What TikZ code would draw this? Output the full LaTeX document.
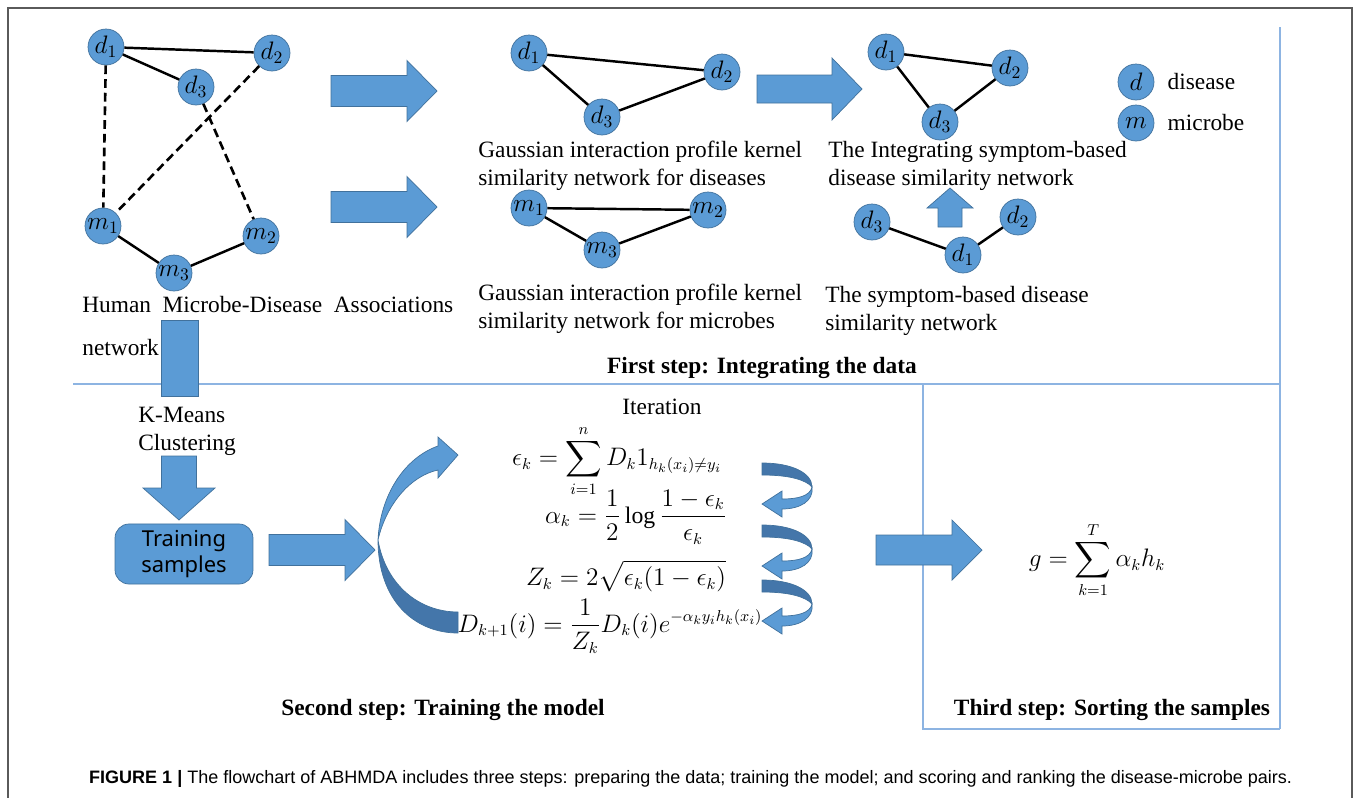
\documentclass[tikz,border=0pt]{standalone}
\usepackage{amsmath}
\usepackage{fontspec}
\setmainfont{Liberation Serif}
\newfontfamily\samplefont{Noto Sans}
\newfontfamily\capfont{Liberation Sans}
\usepackage{xcolor}
\usepackage{tikz}
\usetikzlibrary{positioning}
\definecolor{nodeblue}{RGB}{91,155,213}
\definecolor{nodeedge}{RGB}{65,113,156}
\definecolor{backblue}{RGB}{68,118,170}
\definecolor{panelblue}{RGB}{141,180,226}
\definecolor{framegray}{RGB}{90,90,90}

% tail point, angle, length, shaft width, head width, head length
\newcommand{\fatarrow}[6]{%
  \filldraw[fill=nodeblue, draw=nodeedge, line width=0.4pt, shift={#1}, rotate=#2]
    (0,-#4/2) -- (#3-#6,-#4/2) -- (#3-#6,-#5/2) -- (#3,0) -- (#3-#6,#5/2) -- (#3-#6,#4/2) -- (0,#4/2) -- cycle;}

\begin{document}
\begin{tikzpicture}[x=0.02cm, y=-0.02cm,
    every node/.style={font=\fontsize{13.3}{16}\selectfont},
    vert/.style={circle, draw=nodeedge, fill=nodeblue, minimum size=0.72cm, inner sep=0pt,
      font=\fontsize{14.4}{16}\selectfont},
    link/.style={line width=1.4pt},
    dlink/.style={line width=1.5pt, dash pattern=on 5pt off 2.8pt},
    panel/.style={draw=panelblue, line width=1.1pt},
    annot/.style={align=left, anchor=west, inner sep=0pt},
    stepname/.style={font=\fontsize{13.3}{16}\selectfont\bfseries},
    formula/.style={font=\fontsize{13.5}{16}\selectfont, inner sep=0pt},
    turnlight/.style={fill=nodeblue, draw=nodeedge, line width=0.4pt},
    turndark/.style={fill=backblue, draw=nodeedge, line width=0.4pt}]
  \useasboundingbox (0,0) rectangle (1357,798);

  \draw[framegray, line width=0.8pt] (8,798) -- (8,8) -- (1352,8) -- (1352,798);
  \draw[panel] (1280,27) -- (1280,729);
  \draw[panel] (73,384) -- (1280,384);
  \draw[panel] (923,384) -- (923,729) -- (1280,729);

  % human microbe-disease network
  \node[vert] (hd1) at (106,47) {$d_1$};
  \node[vert] (hd2) at (272,53) {$d_2$};
  \node[vert] (hd3) at (196,87) {$d_3$};
  \node[vert] (hm1) at (103,226) {$m_1$};
  \node[vert] (hm2) at (261,236) {$m_2$};
  \node[vert] (hm3) at (174,273) {$m_3$};
  \draw[link] (hd1) -- (hd2);
  \draw[link] (hd1) -- (hd3);
  \draw[link] (hm1) -- (hm3) -- (hm2);
  \draw[dlink] (hd1) -- (hm1);
  \draw[dlink] (hd2) -- (hm1);
  \draw[dlink] (hd3) -- (hm2);
  \node[annot, anchor=north west, text width=7.42cm] (hmtext) at (82,296)
    {Human\hspace{0pt plus 1filll}Microbe-Disease\hspace{0pt plus 1filll}Associations\\[0.3cm]network};

  \fatarrow{(331,91)}{0}{106}{31}{61}{30}
  \fatarrow{(331,207)}{0}{106}{31}{61}{30}

  % gaussian kernel networks
  \node[vert] (gd1) at (529,53) {$d_1$};
  \node[vert] (gd2) at (722,72) {$d_2$};
  \node[vert] (gd3) at (602,117) {$d_3$};
  \draw[link] (gd1) -- (gd2) -- (gd3) -- (gd1);
  \node[annot] (gdtext) at (478,166) {Gaussian interaction profile kernel\\similarity network for diseases};
  \node[vert] (gm1) at (529,208) {$m_1$};
  \node[vert] (gm2) at (708,210) {$m_2$};
  \node[vert] (gm3) at (602,250) {$m_3$};
  \draw[link] (gm1) -- (gm2) -- (gm3) -- (gm1);
  \node[annot] (gmtext) at (478,309) {Gaussian interaction profile kernel\\similarity network for microbes};

  \fatarrow{(757,89)}{0}{105}{28}{62}{30}

  % integrated and symptom networks
  \node[vert] (id1) at (886,52) {$d_1$};
  \node[vert] (id2) at (1010,68) {$d_2$};
  \node[vert] (id3) at (940,122) {$d_3$};
  \draw[link] (id1) -- (id2) -- (id3) -- (id1);
  \node[annot] (idtext) at (828,166) {The Integrating symptom-based\\disease similarity network};
  \fatarrow{(950,227)}{90}{39}{24}{46}{20}
  \node[vert] (sd3) at (872,222) {$d_3$};
  \node[vert] (sd2) at (1018,217) {$d_2$};
  \node[vert] (sd1) at (963,255) {$d_1$};
  \draw[link] (sd3) -- (sd1) -- (sd2);
  \node[annot] (sdtext) at (825,311) {The symptom-based disease\\similarity network};

  \node[vert] (legd) at (1136,82) {$d$};
  \node[vert] (legm) at (1136,123) {$m$};
  \node[annot, right=0.26cm of legd] (legdtext) {disease};
  \node[annot, right=0.26cm of legm] (legmtext) {microbe};

  \node[stepname] (step1) at (762,368) {First step: Integrating the data};

  % training
  \filldraw[fill=nodeblue, draw=nodeedge, line width=0.4pt] (161,320) rectangle (198,396);
  \node[annot] (kmeans) at (138,431) {K-Means\\Clustering};
  \fatarrow{(179,456)}{-90}{64}{35}{72}{32}
  \node[draw=nodeedge, fill=nodeblue, rounded corners=8pt, minimum width=2.76cm, minimum height=1.12cm,
    align=center, font=\samplefont\fontsize{12.5}{15.3}\selectfont] (samples) at (184,554) {Training\\samples};
  \fatarrow{(269,550)}{0}{106}{31}{61}{30}

  \path[turnlight] (438,446) -- (438,437) -- (458,455) -- (438,478) -- (438,470)
    .. controls (410,476) and (386,505) .. (378,540)
    .. controls (380,496) and (404,458) .. (438,446) -- cycle;
  \path[turndark] (378,540) .. controls (378,600) and (414,633) .. (458,633) -- (458,612)
    .. controls (420,612) and (386,586) .. (378,540) -- cycle;

  \node[inner sep=0pt] (iter) at (662,407) {Iteration};
  \node[formula] (eps) at (617,461) {$\displaystyle \epsilon_k=\sum_{i=1}^{n}D_k1_{h_k(x_i)\neq y_i}$};
  \node[formula] (alpha) at (636,517) {$\displaystyle \alpha_k=\frac{1}{2}\log\frac{1-\epsilon_k}{\epsilon_k}$};
  \node[formula] (zk) at (626,576) {$\displaystyle Z_k=2\sqrt{\epsilon_k(1-\epsilon_k)}$};
  \node[formula] (dk) at (610,626) {$\displaystyle D_{k+1}(i)=\frac{1}{Z_k}D_k(i)e^{-\alpha_k y_i h_k(x_i)}$};

  \foreach \y in {463,525,580} {
    \path[turndark] (762,\y) .. controls (792,\y) and (812,\y+10) .. (812,\y+24)
      .. controls (806,\y+17) and (790,\y+12) .. (762,\y+12) -- cycle;
    \path[turnlight] (812,\y+24) .. controls (814,\y+38) and (800,\y+46) .. (782,\y+46)
      -- (782,\y+54) -- (762,\y+41) -- (782,\y+28) -- (782,\y+36)
      .. controls (798,\y+36) and (810,\y+33) .. (812,\y+24) -- cycle;
  }

  \node[stepname] (step2) at (443,710) {Second step: Training the model};

  % sorting
  \fatarrow{(876,550)}{0}{106}{30}{60}{30}
  \node[formula] (gsum) at (1097,560) {$\displaystyle g=\sum_{k=1}^{T}\alpha_k h_k$};
  \node[stepname] (step3) at (1112,710) {Third step: Sorting the samples};

  \node[anchor=west, font=\capfont\fontsize{10.25}{12}\selectfont] (caption) at (83,779)
    {\textbf{FIGURE 1 |} The flowchart of ABHMDA includes three steps: preparing the data; training the model; and scoring and ranking the disease-microbe pairs.};
\end{tikzpicture}
\end{document}
